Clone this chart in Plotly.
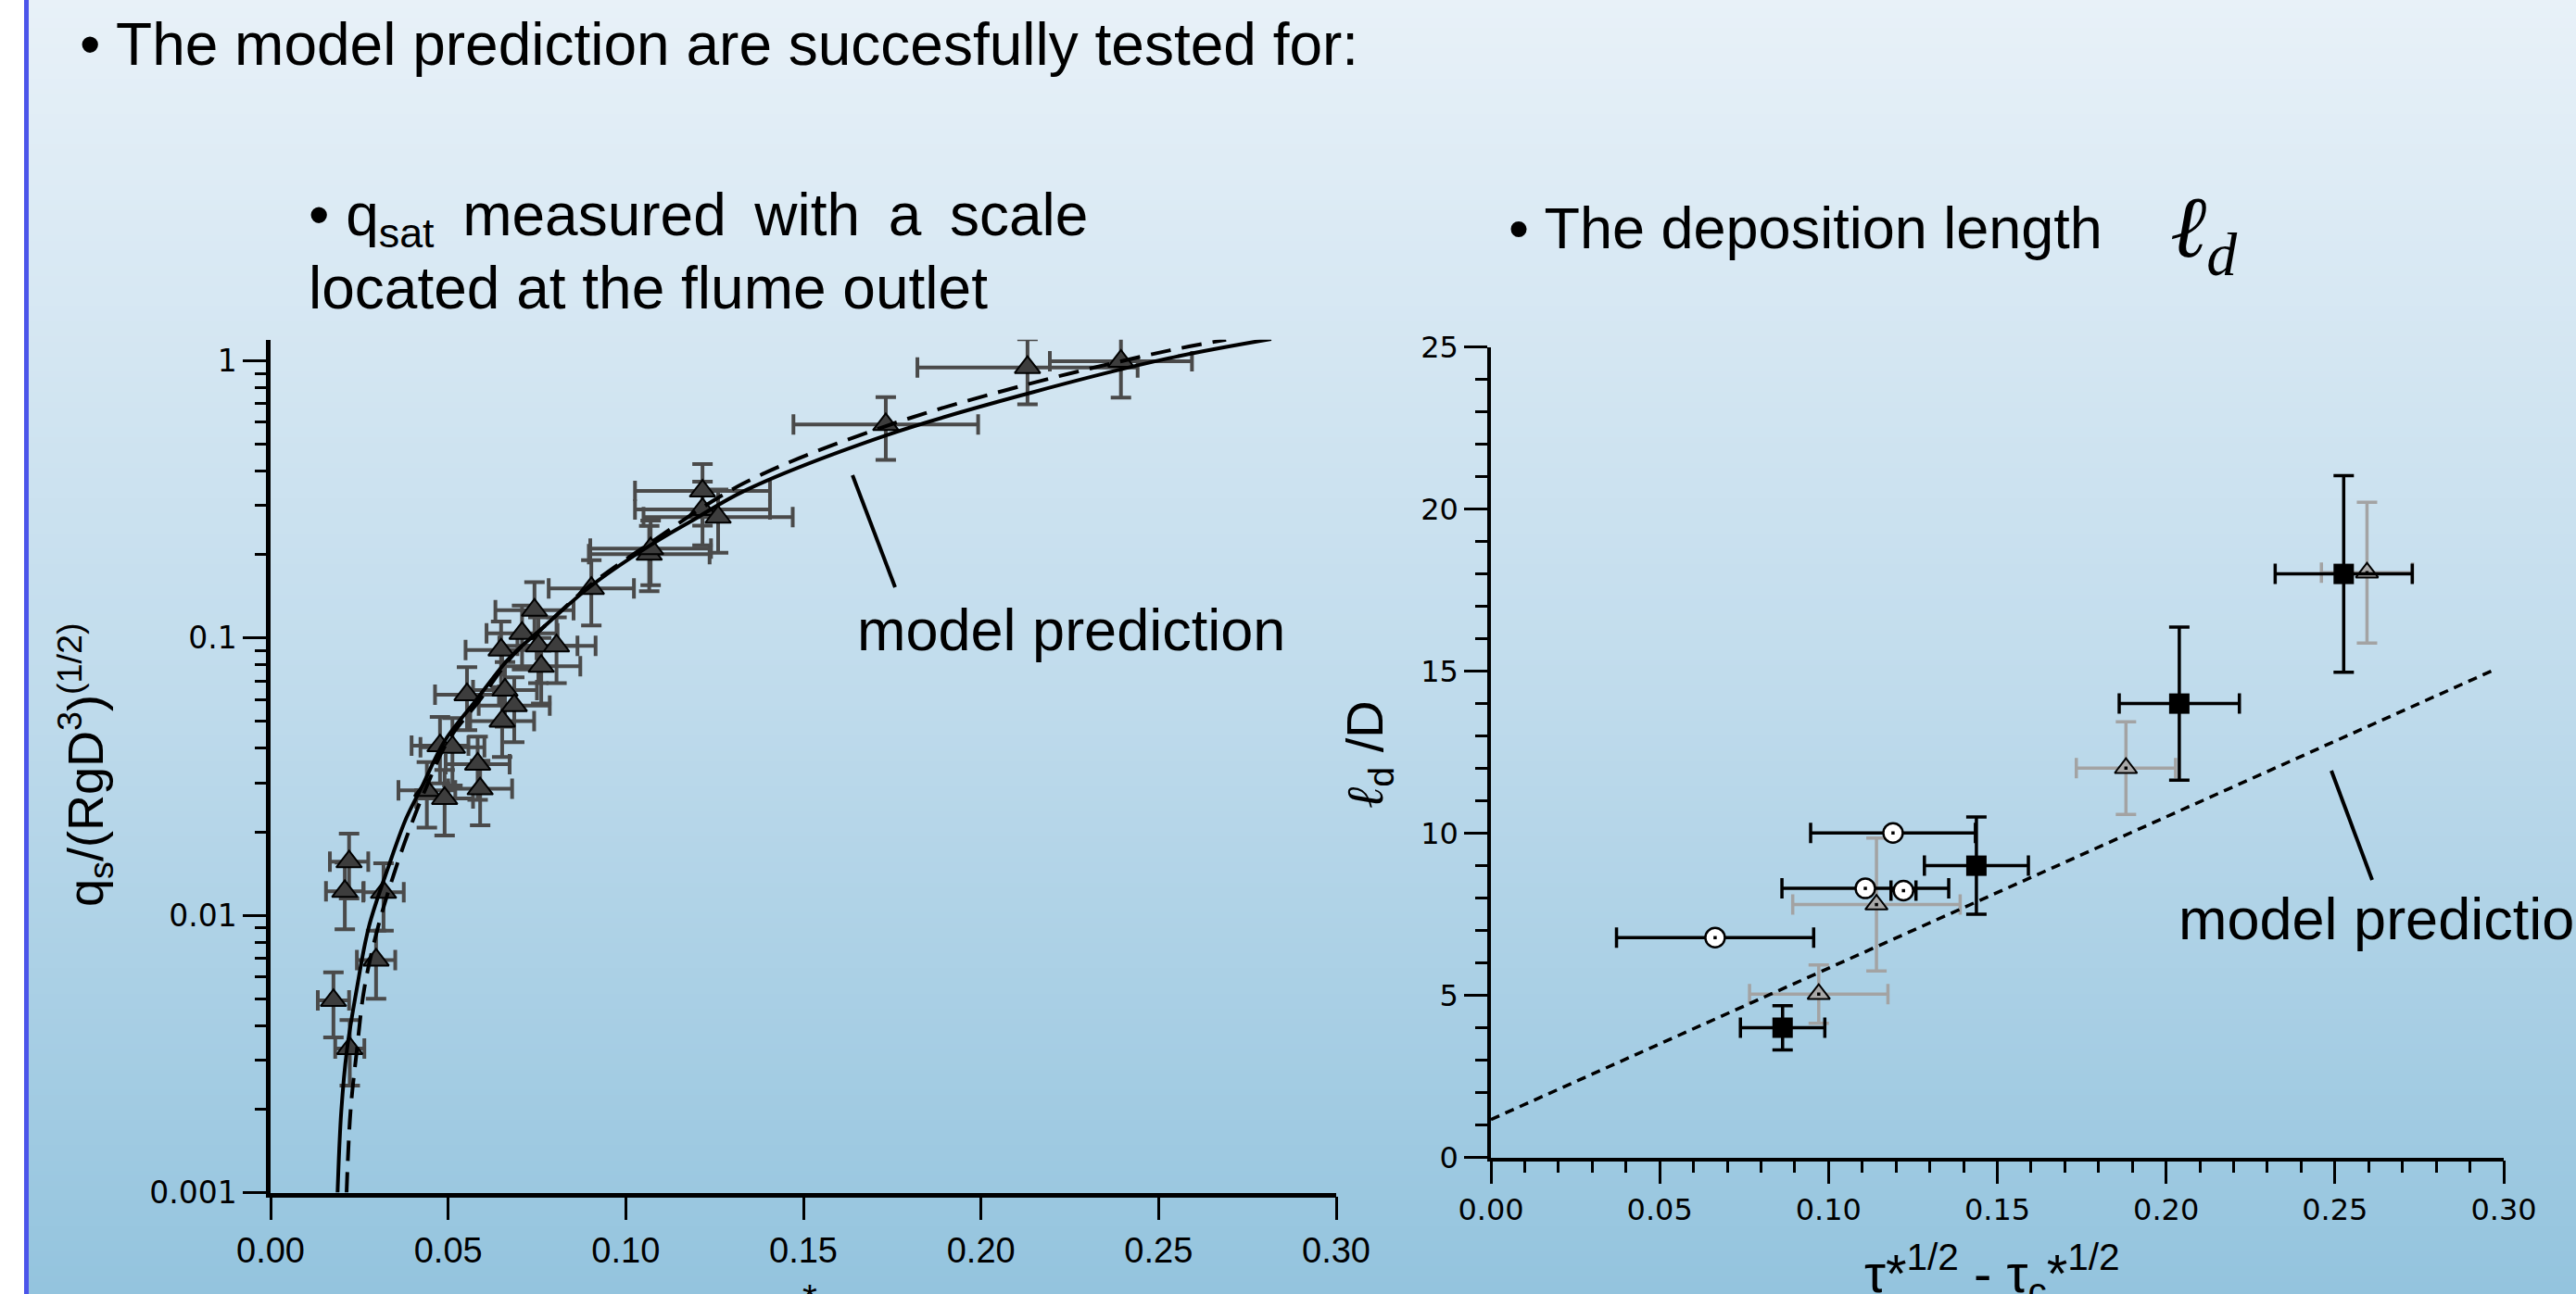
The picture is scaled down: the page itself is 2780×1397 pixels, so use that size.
import struct, zlib, base64
import plotly.graph_objects as go

W, H = 2780, 1397

# ---------------- left panel data: q_s/(RgD^3)^(1/2) vs tau* ----------------
tau_star = [0.0177, 0.0223, 0.0209, 0.0221, 0.0318, 0.0297, 0.0440, 0.0490, 0.0590, 0.0583,
            0.0477, 0.0512, 0.0553, 0.0660, 0.0686, 0.0652, 0.0649, 0.0708, 0.0743, 0.0754,
            0.0805, 0.0762, 0.0903, 0.1066, 0.1070, 0.1216, 0.1216, 0.1260, 0.1732, 0.2131, 0.2394]
q_star = [0.00493, 0.00331, 0.0122, 0.0156, 0.0121, 0.0069, 0.0282, 0.0264, 0.0286, 0.0351,
          0.0409, 0.0404, 0.0625, 0.0649, 0.0571, 0.0502, 0.0906, 0.104, 0.126, 0.0937,
          0.0937, 0.0791, 0.151, 0.2006, 0.210, 0.339, 0.291, 0.273, 0.589, 0.946, 0.996]
tau_err = [0.0044, 0.0041, 0.0053, 0.0054, 0.0057, 0.0054, 0.008, 0.008, 0.009, 0.009,
           0.008, 0.009, 0.009, 0.009, 0.010, 0.009, 0.010, 0.010, 0.011, 0.011,
           0.011, 0.011, 0.012, 0.017, 0.017, 0.019, 0.019, 0.021, 0.026, 0.031, 0.020]
q_err = [0.0013, 0.00088, 0.0033, 0.0041, 0.0033, 0.0019, 0.0075, 0.007, 0.0075, 0.009,
         0.011, 0.011, 0.016, 0.017, 0.015, 0.013, 0.024, 0.027, 0.033, 0.025,
         0.025, 0.021, 0.040, 0.053, 0.055, 0.085, 0.075, 0.07, 0.15, 0.25, 0.26]

model_solid_tau = [0.01886, 0.0199, 0.0215, 0.0243, 0.0277, 0.0334, 0.0382, 0.0425, 0.049, 0.0577,
                   0.0673, 0.076, 0.0899, 0.1064, 0.1195, 0.1333, 0.1732, 0.2131, 0.253, 0.2817]
model_solid_q = [0.001, 0.00196, 0.00327, 0.00546, 0.00912, 0.01524, 0.0224, 0.0289, 0.0425, 0.0593,
                 0.0849, 0.107, 0.153, 0.214, 0.269, 0.339, 0.538, 0.761, 1.022, 1.198]
model_dashed_tau = [0.0214, 0.0225, 0.0243, 0.0264, 0.0303, 0.0356, 0.0403, 0.0438, 0.0499, 0.0590,
                    0.0680, 0.0770, 0.0905, 0.1068, 0.1333, 0.1732, 0.2131, 0.253, 0.269]
model_dashed_q = [0.001, 0.00196, 0.00327, 0.00546, 0.00912, 0.01524, 0.0224, 0.0289, 0.0425, 0.0600,
                  0.0860, 0.110, 0.157, 0.220, 0.362, 0.581, 0.822, 1.089, 1.19]

left_xtick_vals = [0.0, 0.05, 0.10, 0.15, 0.20, 0.25, 0.30]
left_xtick_text = ["0.00", "0.05", "0.10", "0.15", "0.20", "0.25", "0.30"]
left_ytick_vals = [0.001, 0.01, 0.1, 1]
left_ytick_text = ["0.001", "0.01", "0.1", "1"]

# ---------------- right panel data: l_d/D vs tau*^1/2 - tau_c*^1/2 ----------------
sq_x = [0.0864, 0.1438, 0.2039, 0.2526]
sq_y = [4.0, 9.0, 14.0, 18.0]
sq_xerr = [0.0125, 0.0154, 0.0178, 0.0203]
sq_yerr = [0.68, 1.5, 2.36, 3.03]

circ_x = [0.0664, 0.1109, 0.1222, 0.1191]
circ_y = [6.78, 8.30, 8.23, 10.01]
circ_xerr = [0.0292, 0.0247, 0.0037, 0.0244]

tri_x = [0.0971, 0.1142, 0.1881, 0.2595]
tri_y = [5.04, 7.80, 12.01, 18.04]
tri_xerr = [0.0205, 0.0248, 0.0147, 0.0135]
tri_yerr = [0.9, 2.05, 1.43, 2.17]

model_ld_x = [0.0, 0.298]
model_ld_y = [1.17, 15.08]

right_xtick_vals = [0.0, 0.05, 0.10, 0.15, 0.20, 0.25, 0.30]
right_xtick_text = ["0.00", "0.05", "0.10", "0.15", "0.20", "0.25", "0.30"]
right_ytick_vals = [0, 5, 10, 15, 20, 25]
right_ytick_text = ["0", "5", "10", "15", "20", "25"]


# ---------------- background gradient (PNG data URI) ----------------
def gradient_png(stops, n=256):
    rows = []
    for i in range(n):
        t = i / (n - 1)
        for j in range(len(stops) - 1):
            t0, c0 = stops[j]
            t1, c1 = stops[j + 1]
            if t0 <= t <= t1:
                f = (t - t0) / (t1 - t0)
                rows.append(tuple(int(round(c0[k] + (c1[k] - c0[k]) * f)) for k in range(3)))
                break
    raw = b"".join(b"\x00" + bytes(r) for r in rows)

    def chunk(tag, data):
        return struct.pack(">I", len(data)) + tag + data + struct.pack(">I", zlib.crc32(tag + data) & 0xffffffff)

    png = (b"\x89PNG\r\n\x1a\n" + chunk(b"IHDR", struct.pack(">IIBBBBB", 1, n, 8, 2, 0, 0, 0))
           + chunk(b"IDAT", zlib.compress(raw)) + chunk(b"IEND", b""))
    return "data:image/png;base64," + base64.b64encode(png).decode()


bg = gradient_png([(0.0, (232, 241, 248)), (0.5, (195, 221, 237)), (1.0, (148, 196, 222))])


def px(x):
    return x / W


def py(y):
    return 1 - y / H


fig = go.Figure()

# ---------------- left panel traces ----------------
fig.add_trace(go.Scatter(
    x=tau_star, y=q_star, mode="markers", xaxis="x", yaxis="y",
    marker=dict(symbol="triangle-up", size=24, color="#3d3d3d", line=dict(color="black", width=2)),
    error_x=dict(type="data", array=tau_err, color="#4a4a4a", thickness=4, width=11),
    error_y=dict(type="data", array=q_err, color="#4a4a4a", thickness=4, width=11),
    showlegend=False))
fig.add_trace(go.Scatter(
    x=model_dashed_tau, y=model_dashed_q, mode="lines", xaxis="x", yaxis="y",
    line=dict(color="black", width=4, dash="22px,12px", shape="spline"), showlegend=False))
fig.add_trace(go.Scatter(
    x=model_solid_tau, y=model_solid_q, mode="lines", xaxis="x", yaxis="y",
    line=dict(color="black", width=4, shape="spline"), showlegend=False))

# ---------------- right panel traces ----------------
fig.add_trace(go.Scatter(
    x=tri_x, y=tri_y, mode="markers", xaxis="x2", yaxis="y2",
    marker=dict(symbol="triangle-up", size=21, color="#a8a8a8", line=dict(color="black", width=2)),
    error_x=dict(type="data", array=tri_xerr, color="#a3a3a3", thickness=3.5, width=11),
    error_y=dict(type="data", array=tri_yerr, color="#a3a3a3", thickness=3.5, width=11),
    showlegend=False))
fig.add_trace(go.Scatter(
    x=model_ld_x, y=model_ld_y, mode="lines", xaxis="x2", yaxis="y2",
    line=dict(color="black", width=3.5, dash="10px,7px"), showlegend=False))
fig.add_trace(go.Scatter(
    x=circ_x, y=circ_y, mode="markers", xaxis="x2", yaxis="y2",
    marker=dict(symbol="circle", size=21, color="white", line=dict(color="black", width=2.5)),
    error_x=dict(type="data", array=circ_xerr, color="black", thickness=3.5, width=11),
    showlegend=False))
fig.add_trace(go.Scatter(
    x=sq_x, y=sq_y, mode="markers", xaxis="x2", yaxis="y2",
    marker=dict(symbol="square", size=22, color="black", line=dict(color="black", width=0)),
    error_x=dict(type="data", array=sq_xerr, color="black", thickness=3.5, width=11),
    error_y=dict(type="data", array=sq_yerr, color="black", thickness=3.5, width=11),
    showlegend=False))
fig.add_trace(go.Scatter(
    x=circ_x + tri_x, y=circ_y + tri_y, mode="markers", xaxis="x2", yaxis="y2",
    marker=dict(symbol="square", size=3.5, color="black"), showlegend=False))

# ---------------- axes ----------------
ax_common = dict(showline=True, linecolor="black", ticks="outside", tickcolor="black",
                 ticklen=25, tickwidth=3, showgrid=False, zeroline=False, tickmode="array",
                 automargin=False)

minor_log = [k * 10 ** e for e in (-3, -2, -1) for k in range(2, 10)]

fig.update_layout(
    width=W, height=H, autosize=False,
    margin=dict(l=0, r=0, t=0, b=0, pad=0, autoexpand=False),
    paper_bgcolor="white", plot_bgcolor="rgba(0,0,0,0)",
    xaxis=dict(**ax_common, domain=[px(292), px(1442)], range=[0, 0.30], anchor="y", linewidth=4.5,
               tickvals=left_xtick_vals, ticktext=left_xtick_text,
               tickfont=dict(family="Liberation Sans", size=38, color="black")),
    yaxis=dict(**ax_common, type="log", domain=[py(1287.5), py(366.7)], range=[-3, 0.076], anchor="x",
               linewidth=4.5, tickvals=left_ytick_vals, ticktext=left_ytick_text,
               tickfont=dict(family="DejaVu Sans", size=33, color="black"),
               minor=dict(ticks="outside", ticklen=12, tickwidth=3, tickcolor="black",
                          tickmode="array", tickvals=minor_log, showgrid=False)),
    xaxis2=dict(**ax_common, domain=[px(1609), px(2702)], range=[0, 0.30], anchor="y2", linewidth=3.5,
                tickvals=right_xtick_vals, ticktext=right_xtick_text,
                tickfont=dict(family="DejaVu Sans", size=32, color="black"),
                minor=dict(ticks="outside", ticklen=13, tickwidth=3, tickcolor="black",
                           dtick=0.01, tick0=0, showgrid=False)),
    yaxis2=dict(**ax_common, domain=[py(1249.6), py(374.6)], range=[0, 25], anchor="x2", linewidth=3.5,
                tickvals=right_ytick_vals, ticktext=right_ytick_text,
                tickfont=dict(family="DejaVu Sans", size=32, color="black"),
                minor=dict(ticks="outside", ticklen=13, tickwidth=3, tickcolor="black",
                           dtick=1, tick0=0, showgrid=False)),
    images=[dict(source=bg, xref="paper", yref="paper", x=0, y=1, sizex=1, sizey=1,
                 sizing="stretch", xanchor="left", yanchor="top", layer="below")],
)

# ---------------- shapes: left border, leader lines ----------------
shapes = [
    dict(type="rect", xref="paper", yref="paper", x0=0, x1=px(26), y0=0, y1=1,
         fillcolor="white", line=dict(width=0), layer="above"),
    dict(type="rect", xref="paper", yref="paper", x0=px(26), x1=px(31), y0=0, y1=1,
         fillcolor="#4b55ea", line=dict(width=0), layer="above"),
    dict(type="line", xref="paper", yref="paper", x0=px(920), y0=py(513), x1=px(966), y1=py(634),
         line=dict(color="black", width=4)),
    dict(type="line", xref="paper", yref="paper", x0=px(2516), y0=py(832), x1=px(2560), y1=py(950),
         line=dict(color="black", width=4)),
]
fig.update_layout(shapes=shapes)

# ---------------- texts ----------------
def note(text, x, y, size, family="Liberation Sans", xanchor="left", yanchor="middle", angle=0):
    fig.add_annotation(text=text, x=px(x), y=py(y), xref="paper", yref="paper",
                       showarrow=False, xanchor=xanchor, yanchor=yanchor, textangle=angle,
                       font=dict(family=family, size=size, color="black"))


note("• The model prediction are succesfully tested for:", 84, 48, 64)
note("• q<sub>sat</sub>\u2009 measured\u2009 with\u2009 a\u2009 scale", 331, 236, 64)
note("located at the flume outlet", 331, 311, 64)
note("• The deposition length", 1626, 246, 63)
note("<i>ℓ</i><sub><i>d</i></sub>", 2340, 252, 94, family="Liberation Serif")
note("model prediction", 923, 680, 63)
note("model prediction", 2349, 992, 63)

# axis titles
note("q<sub>s</sub>/(RgD<sup>3</sup>)<sup>(1/2)</sup>", 92, 826, 54, xanchor="center", angle=-90)
note("<span style='font-family:Liberation Serif'><i>ℓ</i></span><sub>d</sub> /D", 1476, 815, 56,
     xanchor="center", angle=-90)
note("τ<sup>*</sup>", 862, 1376, 58, xanchor="center", yanchor="top")
note("τ*<sup>1/2</sup> - τ<sub>c</sub>*<sup>1/2</sup>", 2150, 1332, 58, xanchor="center", yanchor="top")

fig.write_html("out.html")
